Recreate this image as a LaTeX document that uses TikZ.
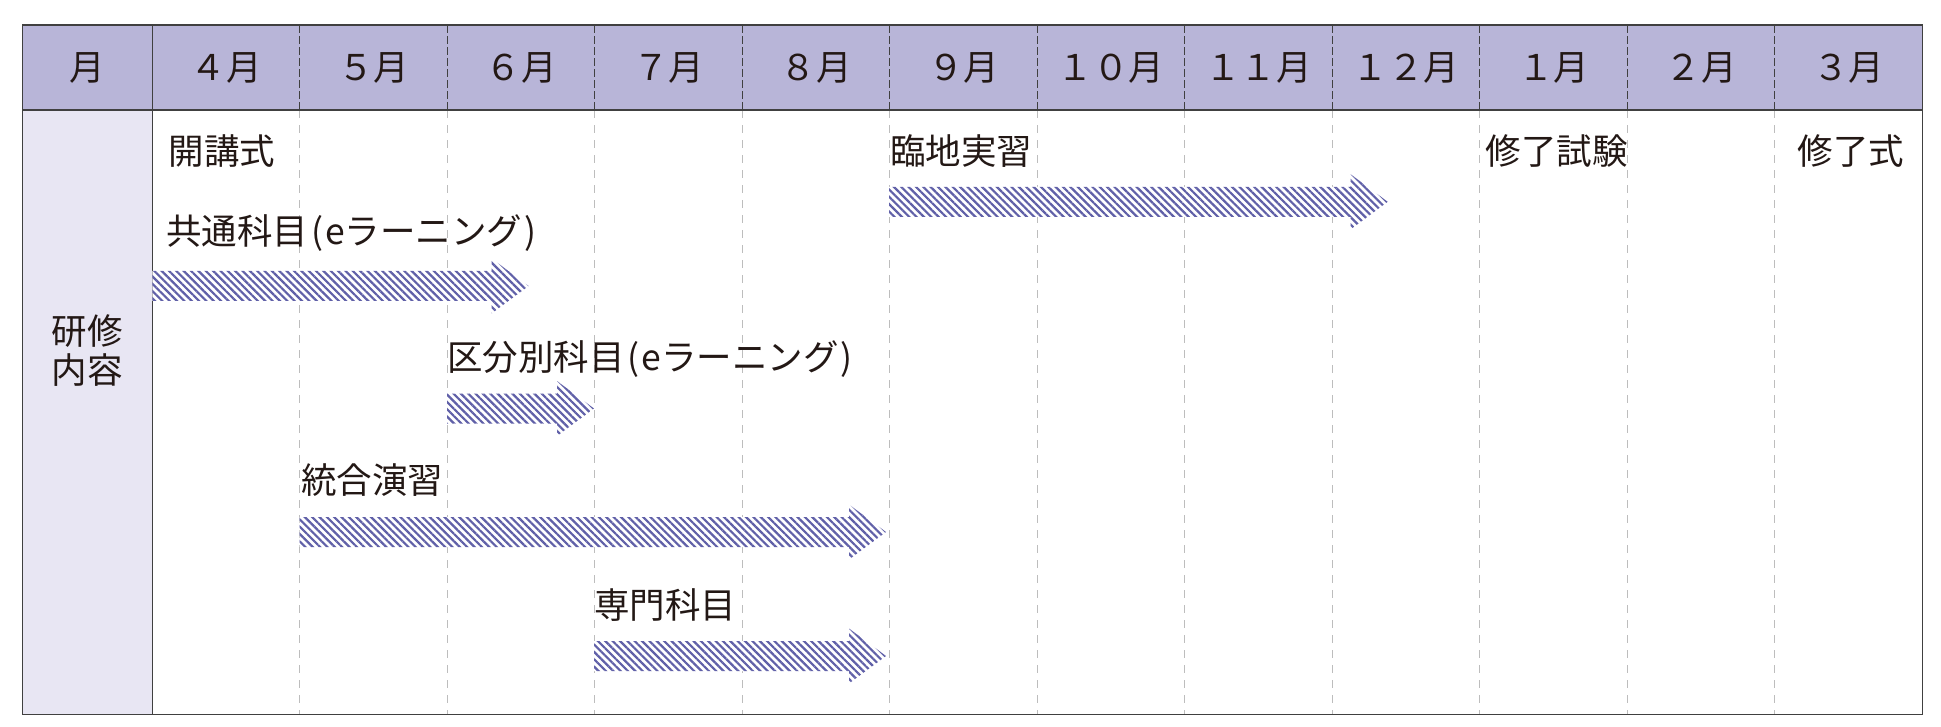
\documentclass[tikz,border=0pt]{standalone}
\usepackage{fontspec}
\setmainfont{Noto Sans CJK JP}
\usetikzlibrary{patterns.meta}
\definecolor{hdr}{HTML}{B8B5D8}
\definecolor{side}{HTML}{E8E6F3}
\definecolor{stripe}{HTML}{6060A8}
\definecolor{frame}{HTML}{404040}
\definecolor{gridc}{HTML}{BDBDBD}
\definecolor{ink}{HTML}{231815}
\newcommand\ganttarrow[3]{%
  \path[arrowbar] (#1,#3-15) -- (#2-37,#3-15) -- (#2-37,#3-27.5) -- (#2,#3)
    -- (#2-37,#3+27.5) -- (#2-37,#3+15) -- (#1,#3+15) -- cycle;}
\newcommand\lp{\hspace{3pt}(\hspace{2pt}}
\newcommand\rp{\hspace{2pt})}
\begin{document}
\begin{tikzpicture}[x=1pt,y=-1pt,
  font=\fontsize{35.5}{40}\selectfont,
  lbl/.style={anchor=west,inner sep=0pt,text=ink},
  ctr/.style={anchor=center,inner sep=0pt,text=ink},
  arrowbar/.style={fill=white,postaction={pattern={Lines[angle=-45,distance=5.2pt,line width=2.2pt]},pattern color=stripe}},
  hdash/.style={frame,line width=1pt,dash pattern=on 8pt off 3pt},
  bdash/.style={gridc,line width=1pt,dash pattern=on 8pt off 7pt},
  solidl/.style={frame,line width=1.5pt}]
\useasboundingbox (0,0) rectangle (1941,727);
% backgrounds
\fill[hdr] (22.3,24.8) rectangle (1922.5,110.2);
\fill[side] (22.3,110.2) rectangle (152.3,714.3);
% grid
\foreach \i in {1,...,11}{
  \draw[hdash] (152.3+147.5*\i,24.8) -- (152.3+147.5*\i,110.2);
  \draw[bdash] (152.3+147.5*\i,110.2) -- (152.3+147.5*\i,714.3);
}
\draw[solidl] (22.3,110.2) -- (1922.5,110.2);
\draw[solidl] (152.3,24.8) -- (152.3,714.3);
\draw[solidl] (22.3,24.8) rectangle (1922.5,714.3);
% header labels
\node[ctr] (hmonth) at (87.3,68) {月};
\foreach \m [count=\i from 0] in {４月,５月,６月,７月,８月,９月,１０月,１１月,１２月,１月,２月,３月}{
  \node[ctr] (h\i) at (152.3+147.5*\i+73.75,68) {\m};
}
% side label
\node[ctr,align=center,font=\fontsize{35.5}{39}\selectfont] (side) at (87.3,351) {研修\\内容};
% arrows
\ganttarrow{152.3}{528.6}{286}
\ganttarrow{889}{1387.7}{201.8}
\ganttarrow{447}{594}{408.5}
\ganttarrow{299.6}{886}{532}
\ganttarrow{594}{886}{656}
% labels
\node[lbl] (kaikou) at (168.4,151) {開講式};
\node[lbl] (rinchi) at (890,151) {臨地実習};
\node[lbl] (shiken) at (1485.6,151) {修了試験};
\node[lbl] (shuryo) at (1797.5,151) {修了式};
\node[lbl] (kyotsu) at (166,232.7) {共通科目\lp eラーニング\rp};
\node[lbl] (kubun) at (447,359) {区分別科目\lp eラーニング\rp};
\node[lbl] (togo) at (301,480) {統合演習};
\node[lbl] (senmon) at (594,605) {専門科目};
\end{tikzpicture}
\end{document}
